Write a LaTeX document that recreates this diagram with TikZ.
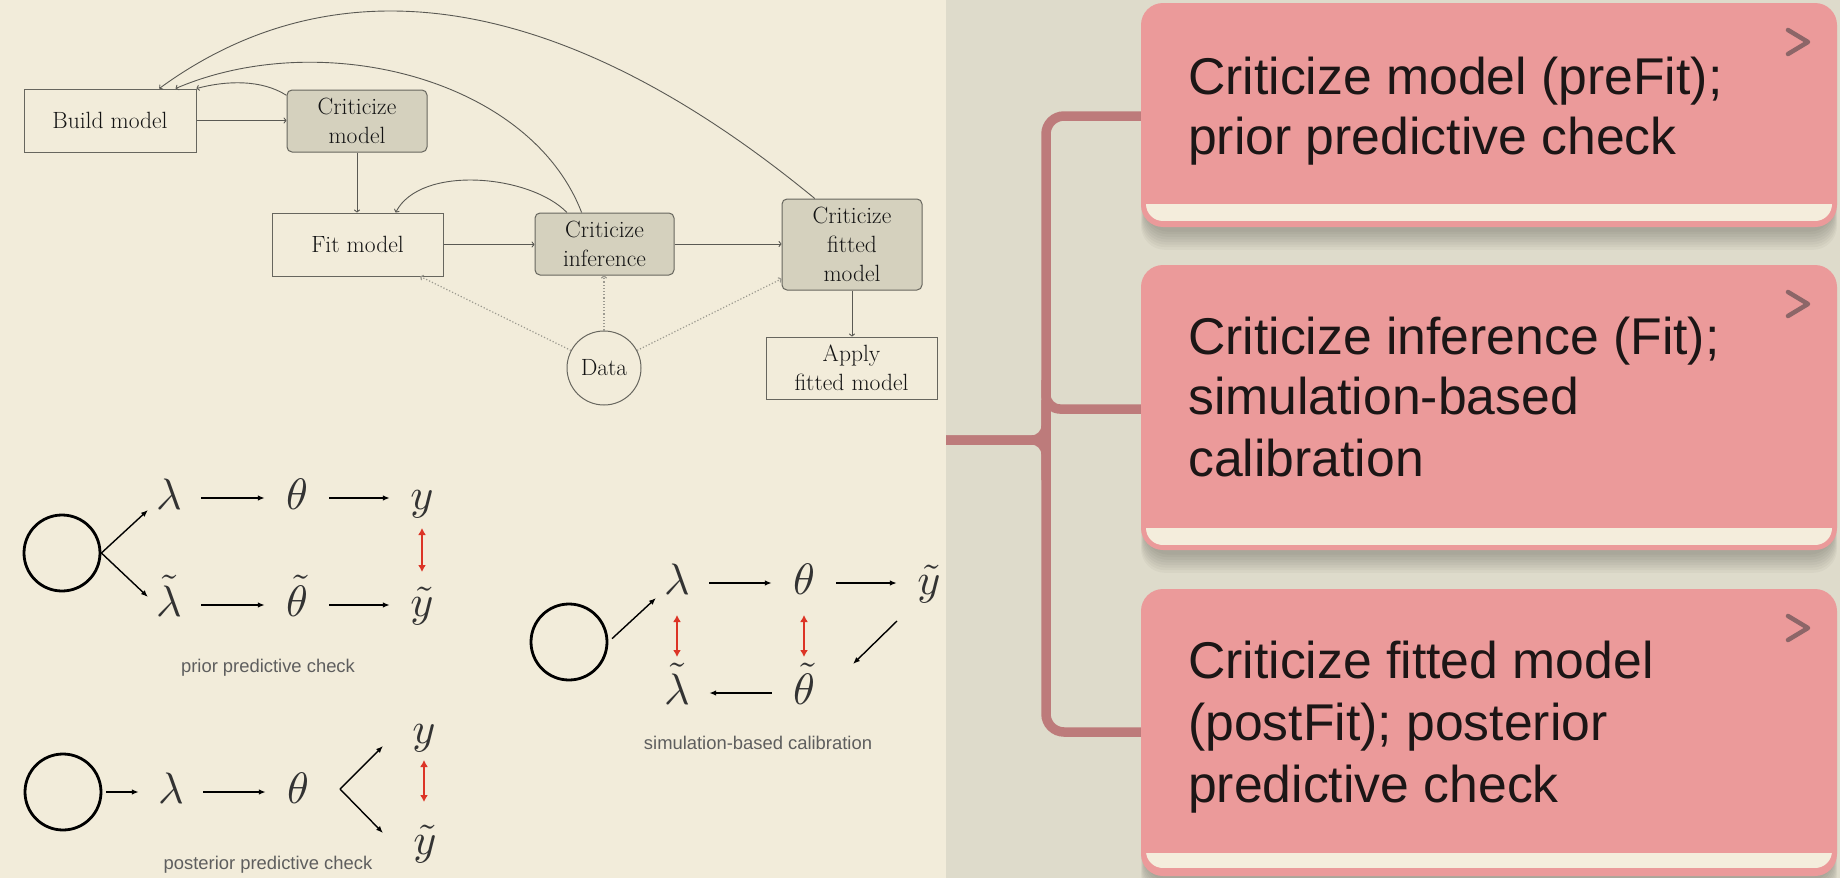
\documentclass[tikz,border=0pt]{standalone}
\usepackage{fontspec}
\usepackage{graphicx}
\newfontfamily\sansf{Liberation Sans}
\usetikzlibrary{arrows.meta,calc}
\definecolor{cream}{HTML}{F2ECDA}
\definecolor{panelgray}{HTML}{DEDBCB}
\definecolor{cardpink}{HTML}{EB9A9A}
\definecolor{stripcream}{HTML}{F4EDDC}
\definecolor{bracketc}{HTML}{BD7B7B}
\definecolor{chevc}{HTML}{8C6668}
\definecolor{boxfill}{HTML}{D5D1BE}
\definecolor{boxline}{HTML}{67665E}
\definecolor{flowline}{HTML}{5A5953}
\definecolor{dotc}{HTML}{9C9A90}
\definecolor{mathc}{HTML}{333333}
\definecolor{capc}{HTML}{5E5E5E}
\definecolor{redc}{HTML}{DC3426}
\definecolor{cardtext}{HTML}{1C1616}
\newcommand\mycard[4]{%
  \foreach \k in {1,...,8} {
    \fill[black, opacity=0.03, rounded corners=24pt] (1141+4-\k*0.5, #1+8) rectangle (1837-4+\k*0.5, #2+2+\k*2.6);
  }
  \fill[cardpink, rounded corners=22pt] (1141,#1) rectangle (1837,#2);
  \begin{scope}
    \clip[rounded corners=17pt] (1146,#1+5) rectangle (1832,#4);
    \fill[stripcream] (1140,#3) rectangle (1840,#4);
  \end{scope}
  \draw[chev] (1788,#1+27) -- (1808,#1+39) -- (1788,#1+51);
}
\begin{document}
\begin{tikzpicture}[x=1pt,y=-1pt,
  flowfont/.style={font=\fontsize{23.5}{29}\selectfont, text=black!92},
  plainbox/.style={draw=boxline, line width=1pt, flowfont, align=center, inner sep=0pt},
  critbox/.style={plainbox, fill=boxfill, rounded corners=5pt},
  flow/.style={draw=flowline, line width=0.9pt, -{To[length=3pt,width=6pt]}},
  dotflow/.style={draw=dotc, line width=1.2pt, dotted, -{To[length=3pt,width=6pt]}},
  mv/.style={inner sep=0pt, minimum width=64pt, text height=28pt, text depth=6pt, text=mathc, anchor=base},
  garrow/.style={draw=black, line width=1.4pt, -{Latex[length=7pt,width=5.5pt]}},
  rarrow/.style={draw=redc, line width=1.8pt, {Latex[length=7pt,width=8pt]}-{Latex[length=7pt,width=8pt]}},
  ring/.style={circle, draw=black, line width=2.8pt, minimum size=76pt, inner sep=0pt},
  captext/.style={font=\sansf\fontsize{18.4}{22}\selectfont, text=capc, anchor=base, inner sep=0pt},
  cardline/.style={font=\sansf\fontsize{51.7}{62}\selectfont, text=cardtext, anchor=base west, inner sep=0pt},
  brk/.style={draw=bracketc, line width=9.5pt},
  chev/.style={draw=chevc, line width=4.5pt, line cap=round, line join=round},
]
\useasboundingbox (0,0) rectangle (1840,878);
\fill[cream] (0,0) rectangle (946,878);
\fill[panelgray] (946,0) rectangle (1840,878);

% ---------- flowchart ----------
\node[plainbox, minimum width=172pt, minimum height=63pt] (build) at (110,120.5) {Build model};
\node[critbox, minimum width=140pt, minimum height=62pt] (cm) at (357,121) {Criticize\\model};
\node[plainbox, minimum width=171pt, minimum height=63pt] (fit) at (357.5,244.5) {Fit model};
\node[critbox, minimum width=139pt, minimum height=62pt] (ci) at (604.5,244) {Criticize\\inference};
\node[critbox, minimum width=140pt, minimum height=91pt] (cf) at (852,244.5) {Criticize\\fitted\\model};
\node[plainbox, minimum width=171pt, minimum height=62pt] (apply) at (851.5,368) {Apply\\fitted model};
\node[circle, draw=boxline, line width=1pt, minimum size=74pt, inner sep=0pt, flowfont] (data) at (604,368) {Data};

\draw[flow] (build.east) -- (build.east -| cm.west);
\draw[flow] (cm.south) -- (cm.south |- fit.north);
\draw[flow] (fit.east) -- (fit.east -| ci.west);
\draw[flow] (ci.east) -- (ci.east -| cf.west);
\draw[flow] (cf.south) -- (cf.south |- apply.north);
\draw[flow] (cm.160) .. controls +(-25,-16) and +(30,-8) .. (build.north east);
\draw[flow] (ci.126) .. controls +(-52,-135) and +(145,-62) .. (build.26);
\draw[flow] (cf.129) .. controls +(-249,-205) and +(181,-132) .. (build.33);
\draw[flow] (ci.140) .. controls +(-37,-38) and +(25,-48) .. (fit.40);
\draw[dotflow] (data.north) -- (data.north |- ci.south);
\draw[dotflow] (data.152) -- (fit.-27);
\draw[dotflow] (data.28) -- (cf.206);

% ---------- prior predictive check ----------
\node[ring] (pc) at (62,553) {};
\node[mv] (pl) at (169,509) {\scalebox{4.4}{$\lambda$}};
\node[mv] (pt) at (297,509) {\scalebox{4.4}{$\theta$}};
\node[mv] (py) at (422,509) {\scalebox{4.4}{$y$}};
\node[mv] (plt) at (169,616) {\scalebox{4.4}{$\tilde{\lambda}$}};
\node[mv] (ptt) at (297,616) {\scalebox{4.4}{$\tilde{\theta}$}};
\node[mv] (pyt) at (422,616) {\scalebox{4.4}{$\tilde{y}$}};
\draw[garrow] (pl) -- (pt);
\draw[garrow] (pt) -- (py);
\draw[garrow] (plt) -- (ptt);
\draw[garrow] (ptt) -- (pyt);
\draw[garrow] (pc.east) -- ([shift={(-21,12)}]pl.center);
\draw[garrow] (pc.east) -- ([shift={(-21,-8)}]plt.center);
\draw[rarrow, shorten <=30pt, shorten >=33pt] (py.center) -- (pyt.center);
\node[captext] (capprior) at (268,672) {prior predictive check};

% ---------- posterior predictive check ----------
\node[ring] (qc) at (63,792) {};
\node[mv] (ql) at (171,803) {\scalebox{4.4}{$\lambda$}};
\node[mv] (qt) at (298,803) {\scalebox{4.4}{$\theta$}};
\node[mv] (qy) at (424,743) {\scalebox{4.4}{$y$}};
\node[mv] (qyt) at (425,854) {\scalebox{4.4}{$\tilde{y}$}};
\draw[garrow, shorten <=4pt] (qc.east) -- (ql.west);
\draw[garrow] (ql) -- (qt);
\draw[garrow] ([shift={(42,-3)}]qt.center) -- ([shift={(-41,14)}]qy.center);
\draw[garrow] ([shift={(42,-3)}]qt.center) -- ([shift={(-42,-10)}]qyt.center);
\draw[rarrow, shorten <=28pt, shorten >=41pt] (qy.center) -- (qy.center |- qyt.center);
\node[captext] (cappost) at (268,869) {posterior predictive check};

% ---------- simulation-based calibration ----------
\node[ring] (sc) at (569,642) {};
\node[mv] (sl) at (677,594) {\scalebox{4.4}{$\lambda$}};
\node[mv] (st) at (804,594) {\scalebox{4.4}{$\theta$}};
\node[mv] (sy) at (929,594) {\scalebox{4.4}{$\tilde{y}$}};
\node[mv] (slt) at (677,704) {\scalebox{4.4}{$\tilde{\lambda}$}};
\node[mv] (stt) at (804,704) {\scalebox{4.4}{$\tilde{\theta}$}};
\draw[garrow, shorten <=5pt] (sc.east) -- ([shift={(-21,15)}]sl.center);
\draw[garrow] (sl) -- (st);
\draw[garrow] (st) -- (sy);
\draw[garrow] ([shift={(-32,38)}]sy.center) -- ([shift={(49,-29)}]stt.center);
\draw[garrow] (stt) -- (slt);
\draw[rarrow, shorten <=32pt, shorten >=36pt] (sl.center) -- (slt.center);
\draw[rarrow, shorten <=32pt, shorten >=36pt] (st.center) -- (stt.center);
\node[captext] (capsbc) at (758,749) {simulation-based calibration};

% ---------- bracket ----------
\draw[brk, rounded corners=18pt] (1150,116) -- (1046,116) -- (1046,732) -- (1150,732);
\draw[brk, rounded corners=14pt] (1046,380) -- (1046,409) -- (1150,409);
\draw[brk, rounded corners=14pt] (946,440) -- (1046,440) -- (1046,400);
\draw[brk, rounded corners=14pt] (946,440) -- (1046,440) -- (1046,480);

% ---------- cards ----------
\mycard{3}{227}{204}{221}
\mycard{265}{550}{528}{545}
\mycard{589}{876}{853}{868}

\node[cardline] (c1a) at (1188,94) {Criticize model (preFit);};
\node[cardline] (c1b) at (1188,154) {prior predictive check};
\node[cardline] (c2a) at (1188,354) {Criticize inference (Fit);};
\node[cardline] (c2b) at (1188,414) {simulation-based};
\node[cardline] (c2c) at (1188,476) {calibration};
\node[cardline] (c3a) at (1188,678) {Criticize fitted model};
\node[cardline] (c3b) at (1188,740) {(postFit); posterior};
\node[cardline] (c3c) at (1188,802) {predictive check};
\end{tikzpicture}
\end{document}
